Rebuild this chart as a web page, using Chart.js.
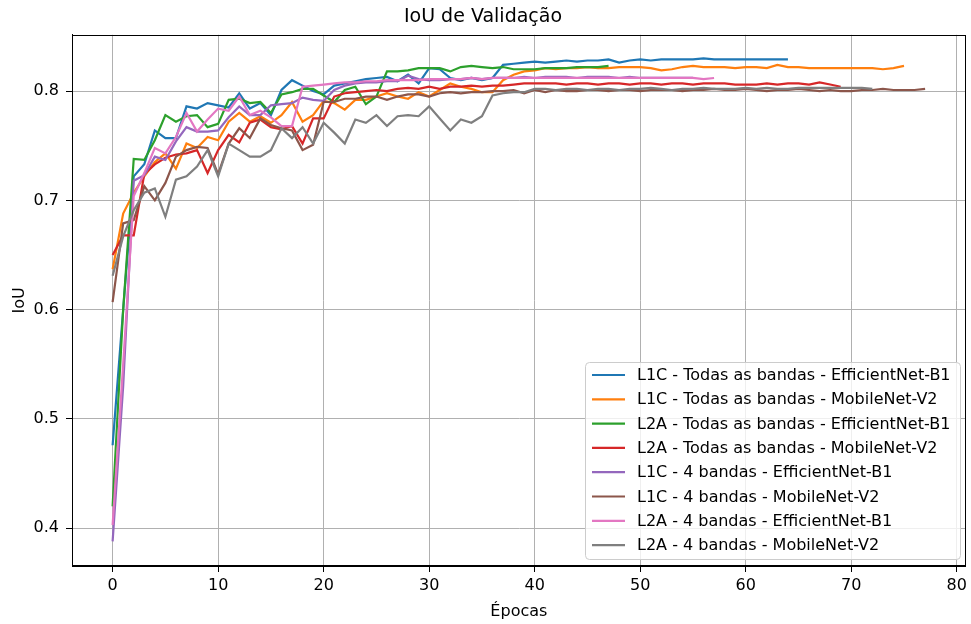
<!DOCTYPE html>
<html>
<head>
<meta charset="utf-8">
<title>IoU de Validação</title>
<script src="https://cdn.jsdelivr.net/npm/chart.js@4.4.1/dist/chart.umd.min.js"></script>
<style>
  html, body { margin: 0; padding: 0; background: #fff; }
  canvas { display: block; }
</style>
</head>
<body>
<canvas id="iouChart" width="971" height="624"></canvas>
<script>
// Series names (legend order)
const seriesNames = [
  'L1C - Todas as bandas - EfficientNet-B1',
  'L1C - Todas as bandas - MobileNet-V2',
  'L2A - Todas as bandas - EfficientNet-B1',
  'L2A - Todas as bandas - MobileNet-V2',
  'L1C - 4 bandas - EfficientNet-B1',
  'L1C - 4 bandas - MobileNet-V2',
  'L2A - 4 bandas - EfficientNet-B1',
  'L2A - 4 bandas - MobileNet-V2'
];

// IoU per epoch (index = epoch)
const l1cTodasEff = [
  0.476, 0.600, 0.722, 0.733, 0.764, 0.757, 0.757, 0.786, 0.784, 0.789,
  0.787, 0.785, 0.798, 0.784, 0.789, 0.778, 0.801, 0.810, 0.805, 0.800,
  0.797, 0.805, 0.807, 0.809, 0.811, 0.812, 0.813, 0.809, 0.815, 0.807,
  0.821, 0.820, 0.812, 0.810, 0.812, 0.810, 0.812, 0.824, 0.825, 0.826,
  0.827, 0.826, 0.827, 0.828, 0.827, 0.828, 0.828, 0.829, 0.826, 0.828,
  0.829, 0.828, 0.829, 0.829, 0.829, 0.829, 0.830, 0.829, 0.829, 0.829,
  0.829, 0.829, 0.829, 0.829, 0.829
];
const l1cTodasMob = [
  0.637, 0.688, 0.707, 0.722, 0.735, 0.743, 0.729, 0.752, 0.748, 0.758,
  0.755, 0.772, 0.780, 0.772, 0.777, 0.771, 0.778, 0.790, 0.772, 0.778,
  0.791, 0.789, 0.783, 0.792, 0.792, 0.795, 0.798, 0.795, 0.793, 0.799,
  0.795, 0.801, 0.807, 0.804, 0.802, 0.799, 0.799, 0.810, 0.815, 0.818,
  0.819, 0.821, 0.820, 0.821, 0.821, 0.822, 0.821, 0.821, 0.822, 0.822,
  0.822, 0.821, 0.819, 0.820, 0.822, 0.823, 0.822, 0.822, 0.822, 0.821,
  0.822, 0.822, 0.821, 0.824, 0.822, 0.822, 0.821, 0.821, 0.821, 0.821,
  0.821, 0.821, 0.821, 0.820, 0.821, 0.823
];
const l2aTodasEff = [
  0.420, 0.600, 0.738, 0.737, 0.755, 0.778, 0.772, 0.777, 0.778, 0.767,
  0.770, 0.792, 0.793, 0.789, 0.790, 0.780, 0.797, 0.799, 0.802, 0.802,
  0.796, 0.790, 0.801, 0.804, 0.788, 0.795, 0.818, 0.818, 0.819, 0.821,
  0.821, 0.821, 0.818, 0.822, 0.823, 0.822, 0.821, 0.822, 0.820, 0.820,
  0.820, 0.821, 0.821, 0.821, 0.822, 0.822, 0.822, 0.823
];
const l2aTodasMob = [
  0.650, 0.668, 0.668, 0.724, 0.733, 0.739, 0.742, 0.743, 0.746, 0.725,
  0.746, 0.760, 0.753, 0.771, 0.774, 0.767, 0.765, 0.768, 0.752, 0.775,
  0.775, 0.795, 0.798, 0.799, 0.800, 0.801, 0.800, 0.802, 0.803, 0.802,
  0.804, 0.802, 0.804, 0.804, 0.805, 0.804, 0.805, 0.805, 0.806, 0.807,
  0.807, 0.807, 0.807, 0.806, 0.807, 0.807, 0.806, 0.807, 0.807, 0.806,
  0.807, 0.807, 0.806, 0.807, 0.807, 0.806, 0.807, 0.807, 0.807, 0.806,
  0.806, 0.806, 0.807, 0.806, 0.807, 0.807, 0.806, 0.808, 0.806, 0.804
];
const l1c4Eff = [
  0.388, 0.530, 0.718, 0.723, 0.740, 0.737, 0.754, 0.767, 0.763, 0.763,
  0.764, 0.776, 0.786, 0.778, 0.778, 0.787, 0.788, 0.789, 0.794, 0.792,
  0.791, 0.801, 0.805, 0.807, 0.808, 0.808, 0.809, 0.809, 0.814, 0.811,
  0.810, 0.810, 0.811, 0.811, 0.812, 0.811, 0.812, 0.812, 0.812, 0.813,
  0.812, 0.813, 0.813, 0.813, 0.812, 0.813, 0.813, 0.813, 0.812, 0.813,
  0.812, 0.812, 0.812, 0.812, 0.812, 0.812
];
const l1c4Mob = [
  0.607, 0.679, 0.682, 0.713, 0.700, 0.716, 0.740, 0.746, 0.749, 0.748,
  0.724, 0.752, 0.766, 0.757, 0.775, 0.769, 0.766, 0.764, 0.746, 0.751,
  0.790, 0.790, 0.793, 0.793, 0.795, 0.795, 0.792, 0.795, 0.797, 0.797,
  0.795, 0.798, 0.799, 0.798, 0.799, 0.799, 0.800, 0.800, 0.801, 0.798,
  0.801, 0.799, 0.801, 0.800, 0.800, 0.801, 0.801, 0.800, 0.801, 0.801,
  0.800, 0.801, 0.801, 0.801, 0.800, 0.801, 0.801, 0.802, 0.801, 0.801,
  0.802, 0.801, 0.800, 0.801, 0.801, 0.802, 0.801, 0.800, 0.801, 0.800,
  0.800, 0.801, 0.801, 0.802, 0.801, 0.801, 0.801, 0.802
];
const l2a4Eff = [
  0.403, 0.550, 0.704, 0.725, 0.748, 0.743, 0.758, 0.780, 0.763, 0.774,
  0.784, 0.782, 0.795, 0.778, 0.782, 0.776, 0.768, 0.768, 0.804, 0.805,
  0.806, 0.807, 0.808, 0.808, 0.809, 0.809, 0.810, 0.810, 0.810, 0.810,
  0.811, 0.811, 0.811, 0.811, 0.812, 0.811, 0.812, 0.812, 0.812, 0.812,
  0.812, 0.812, 0.812, 0.812, 0.812, 0.812, 0.812, 0.812, 0.812, 0.812,
  0.812, 0.812, 0.812, 0.812, 0.812, 0.812, 0.811, 0.812
];
const l2a4Mob = [
  0.631, 0.667, 0.691, 0.707, 0.711, 0.685, 0.719, 0.722, 0.731, 0.746,
  0.722, 0.752, 0.746, 0.740, 0.740, 0.746, 0.766, 0.757, 0.767, 0.752,
  0.771, 0.762, 0.752, 0.774, 0.771, 0.778, 0.768, 0.777, 0.778, 0.777,
  0.786, 0.775, 0.764, 0.774, 0.771, 0.777, 0.796, 0.798, 0.799, 0.799,
  0.802, 0.802, 0.801, 0.802, 0.802, 0.801, 0.802, 0.802, 0.801, 0.802,
  0.802, 0.803, 0.802, 0.801, 0.802, 0.802, 0.803, 0.802, 0.802, 0.802,
  0.803, 0.802, 0.803, 0.802, 0.802, 0.803, 0.803, 0.803, 0.803, 0.803,
  0.803, 0.803, 0.802
];

// Axis ticks
const xTicks = [0, 10, 20, 30, 40, 50, 60, 70, 80];
const yTicks = [0.4, 0.5, 0.6, 0.7, 0.8];

// matplotlib tab10
const colors = ['#1f77b4', '#ff7f0e', '#2ca02c', '#d62728', '#9467bd', '#8c564b', '#e377c2', '#7f7f7f'];

const allSeries = [l1cTodasEff, l1cTodasMob, l2aTodasEff, l2aTodasMob, l1c4Eff, l1c4Mob, l2a4Eff, l2a4Mob];

const FONT = "'DejaVu Sans', sans-serif";
Chart.defaults.font.family = FONT;
Chart.defaults.color = '#000';

// Draw the full box around the plot (matplotlib spines)
const framePlugin = {
  id: 'frame',
  afterDatasetsDraw(chart) {
    const { ctx, chartArea: a } = chart;
    ctx.save();
    ctx.strokeStyle = '#000';
    ctx.lineWidth = 1;
    const l = Math.round(a.left) + 0.5, t = Math.round(a.top) + 0.5;
    const r = Math.round(a.right) - 0.5, b = Math.round(a.bottom) - 0.5;
    ctx.strokeRect(l, t, r - l, b - t);
    ctx.restore();
  }
};

// Legend inside the plot, lower right
const boxLegend = {
  id: 'boxLegend',
  afterDraw(chart) {
    const ctx = chart.ctx;
    const x = 585.5, y = 362.5, w = 375, h = 197;
    ctx.save();
    ctx.beginPath();
    ctx.roundRect(x, y, w, h, 4);
    ctx.fillStyle = 'rgba(255,255,255,0.8)';
    ctx.fill();
    ctx.strokeStyle = '#cccccc';
    ctx.lineWidth = 1;
    ctx.stroke();
    ctx.font = '16px ' + FONT;
    ctx.textBaseline = 'middle';
    ctx.textAlign = 'left';
    chart.data.datasets.forEach((ds, i) => {
      const cy = 375 + i * 24.3;
      ctx.strokeStyle = ds.borderColor;
      ctx.lineWidth = 2.2;
      ctx.beginPath();
      ctx.moveTo(592, cy);
      ctx.lineTo(625, cy);
      ctx.stroke();
      ctx.fillStyle = '#000';
      ctx.fillText(ds.label, 637, cy + 1);
    });
    ctx.restore();
  }
};

new Chart(document.getElementById('iouChart'), {
  type: 'line',
  data: {
    datasets: allSeries.map((vals, i) => ({
      label: seriesNames[i],
      data: vals.map((v, ep) => ({ x: ep, y: v })),
      borderColor: colors[i],
      backgroundColor: colors[i],
      borderWidth: 2.2,
      pointRadius: 0,
      tension: 0,
      fill: false,
      order: allSeries.length - 1 - i
    }))
  },
  options: {
    responsive: false,
    animation: false,
    devicePixelRatio: 1,
    layout: { padding: { top: 0, right: 5, bottom: 0, left: 0 } },
    plugins: {
      legend: { display: false },
      tooltip: { enabled: false },
      title: {
        display: true,
        text: 'IoU de Validação',
        color: '#000',
        font: { family: FONT, size: 19, weight: 'normal' },
        padding: { top: 6, bottom: 6 }
      }
    },
    scales: {
      x: {
        type: 'linear',
        min: -3.85,
        max: 80.85,
        afterBuildTicks: s => { s.ticks = xTicks.map(v => ({ value: v })); },
        afterFit: s => { s.height = 58; },
        grid: { color: '#b0b0b0', lineWidth: 1, tickColor: '#000', tickLength: 6 },
        border: { color: '#000', width: 1 },
        ticks: {
          color: '#000',
          font: { size: 16 },
          padding: 4,
          maxRotation: 0,
          autoSkip: false,
          callback: v => String(v)
        },
        title: {
          display: true,
          text: 'Épocas',
          color: '#000',
          font: { size: 16 },
          padding: { top: 0, bottom: 3 }
        }
      },
      y: {
        type: 'linear',
        min: 0.3655,
        max: 0.8515,
        afterBuildTicks: s => { s.ticks = yTicks.map(v => ({ value: v })); },
        afterFit: s => { s.width = 72; },
        grid: { color: '#b0b0b0', lineWidth: 1, tickColor: '#000', tickLength: 6 },
        border: { color: '#000', width: 1 },
        ticks: {
          color: '#000',
          font: { size: 16 },
          padding: 7,
          callback: v => v.toFixed(1)
        },
        title: {
          display: true,
          text: 'IoU',
          color: '#000',
          font: { size: 16 },
          padding: { top: 10, bottom: 0 }
        }
      }
    }
  },
  plugins: [framePlugin, boxLegend]
});
</script>
</body>
</html>
